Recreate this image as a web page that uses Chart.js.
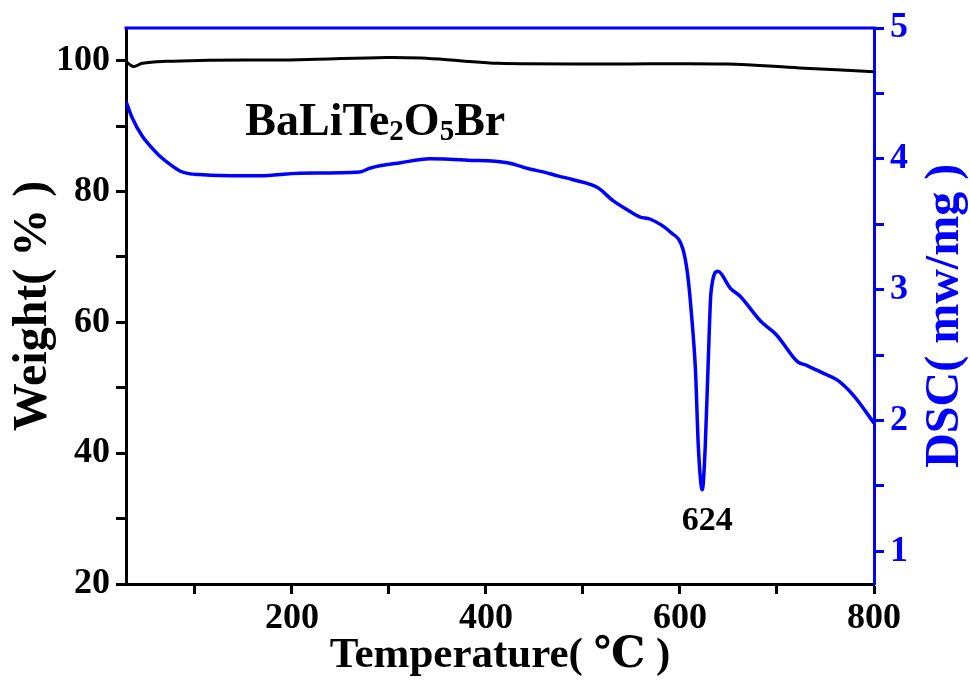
<!DOCTYPE html>
<html>
<head>
<meta charset="utf-8">
<title>BaLiTe2O5Br TGA / DSC</title>
<script src="https://cdn.jsdelivr.net/npm/chart.js@4/dist/chart.umd.min.js"></script>
<style>
  html, body { margin: 0; padding: 0; background: #ffffff; }
  #wrap { width: 970px; height: 693px; }
</style>
</head>
<body>
<div id="wrap"><canvas id="tgaChart" width="970" height="693"></canvas></div>
<script>
/* ===============================
   DATA
================================ */
const tgaTemp   = [29, 33, 37, 46, 70, 105, 207, 298, 333, 373, 412, 523, 648, 723, 800];
const tgaWeight = [99.9, 99.4, 99.1, 99.6, 99.9, 100.05, 100.15, 100.5, 100.4, 100.0, 99.6, 99.5, 99.5, 98.9, 98.3];

const dscTemp  = [29, 35, 46, 55, 64, 74, 85, 95, 105, 116, 167, 208, 270, 281, 312, 342, 381, 422, 446, 459, 474, 490, 515, 531, 548, 559, 569, 590, 603, 608, 612, 616, 619, 623, 626, 629, 632, 639, 652, 662, 683, 700, 721, 731, 748, 762, 779, 800];
const dscValue = [4.44, 4.32, 4.17, 4.09, 4.02, 3.96, 3.905, 3.885, 3.88, 3.875, 3.87, 3.89, 3.90, 3.93, 3.97, 4.0, 3.99, 3.97, 3.92, 3.90, 3.87, 3.84, 3.78, 3.68, 3.60, 3.555, 3.54, 3.44, 3.31, 3.11, 2.80, 2.38, 1.79, 1.47, 1.79, 2.42, 2.98, 3.14, 3.01, 2.95, 2.76, 2.65, 2.45, 2.42, 2.36, 2.31, 2.19, 1.98];

const xTicks       = [100, 200, 300, 400, 500, 600, 700, 800];
const xLabels      = [200, 400, 600, 800];
const weightTicks  = [20, 30, 40, 50, 60, 70, 80, 90, 100];
const weightLabels = [20, 40, 60, 80, 100];
const dscTicks     = [1, 1.5, 2, 2.5, 3, 3.5, 4, 4.5, 5];
const dscLabels    = [1, 2, 3, 4, 5];

const peakTemp = 624;
const sampleName = [["BaLiTe", false], ["2", true], ["O", false], ["5", true], ["Br", false]];
const dscTitle = "DSC( mw/mg )";

const BLUE = "#0000ff";
const FONT = "'Liberation Serif', 'DejaVu Serif', serif";

/* ===============================
   HELPERS
================================ */
const toPoints = (xs, ys) => xs.map((x, i) => ({ x: x, y: ys[i] }));
const fixedTicks = values => scale => { scale.ticks = values.map(v => ({ value: v })); };

/* top frame line, right axis title (reads upward), text annotations */
const annotations = {
  id: "annotations",
  afterDraw(chart) {
    const { ctx, chartArea, scales } = chart;
    ctx.save();

    // top border (blue)
    ctx.strokeStyle = BLUE;
    ctx.lineWidth = 3;
    ctx.beginPath();
    ctx.moveTo(chartArea.left - 1.5, chartArea.top);
    ctx.lineTo(chartArea.right + 1.5, chartArea.top);
    ctx.stroke();

    // right axis title, bottom-to-top like the left one
    ctx.save();
    ctx.translate(958, scales.y1.getPixelForValue(2.8));
    ctx.rotate(-Math.PI / 2);
    ctx.fillStyle = BLUE;
    ctx.font = `bold 48px ${FONT}`;
    ctx.textAlign = "center";
    ctx.textBaseline = "alphabetic";
    ctx.fillText(dscTitle, 0, 0);
    ctx.restore();

    // sample name with subscripts
    ctx.fillStyle = "#000000";
    ctx.textBaseline = "alphabetic";
    ctx.textAlign = "left";
    let x = scales.x.getPixelForValue(152);
    const base = scales.y.getPixelForValue(88.7);
    sampleName.forEach(([txt, sub]) => {
      ctx.font = sub ? `bold 29px ${FONT}` : `bold 46px ${FONT}`;
      ctx.fillText(txt, x, sub ? base + 5 : base);
      x += ctx.measureText(txt).width;
    });

    // peak label
    ctx.font = `bold 34px ${FONT}`;
    ctx.textAlign = "center";
    ctx.fillText(String(peakTemp), scales.x.getPixelForValue(peakTemp + 4), scales.y1.getPixelForValue(1.16));

    ctx.restore();
  }
};

/* ===============================
   CHART
================================ */
new Chart(document.getElementById("tgaChart"), {
  type: "line",
  data: {
    datasets: [
      {
        label: "Weight",
        data: toPoints(tgaTemp, tgaWeight),
        yAxisID: "y",
        borderColor: "#000000",
        borderWidth: 3,
        pointRadius: 0,
        tension: 0.35,
        fill: false
      },
      {
        label: "DSC",
        data: toPoints(dscTemp, dscValue),
        yAxisID: "y1",
        borderColor: BLUE,
        borderWidth: 3.5,
        pointRadius: 0,
        cubicInterpolationMode: "monotone",
        fill: false
      }
    ]
  },
  options: {
    responsive: false,
    animation: false,
    layout: { padding: { top: 28, left: 0, right: 0, bottom: 0 } },
    plugins: {
      legend: { display: false },
      tooltip: { enabled: false }
    },
    scales: {
      x: {
        type: "linear",
        min: 29,
        max: 800,
        afterBuildTicks: fixedTicks(xTicks),
        afterFit: s => { s.height = 109; },
        border: { color: "#000000", width: 3 },
        grid: { drawOnChartArea: false, tickLength: 10, tickWidth: 3, tickColor: "#000000" },
        ticks: {
          autoSkip: false,
          maxRotation: 0,
          padding: 3,
          color: "#000000",
          font: { family: FONT, size: 36, weight: "bold" },
          callback: v => xLabels.includes(v) ? String(v) : ""
        },
        title: {
          display: true,
          text: "Temperature( ℃ )",
          color: "#000000",
          padding: { top: 0, bottom: 11 },
          font: { family: FONT, size: 43, weight: "bold" }
        }
      },
      y: {
        type: "linear",
        position: "left",
        min: 20,
        max: 105,
        afterBuildTicks: fixedTicks(weightTicks),
        afterFit: s => { s.width = 126; },
        border: { color: "#000000", width: 3 },
        grid: { drawOnChartArea: false, tickLength: 10, tickWidth: 3, tickColor: "#000000" },
        ticks: {
          autoSkip: false,
          padding: 6,
          color: "#000000",
          font: { family: FONT, size: 36, weight: "bold" },
          callback: v => weightLabels.includes(v) ? String(v) : ""
        },
        title: {
          display: true,
          text: "Weight( % )",
          color: "#000000",
          padding: { top: 5, bottom: 0 },
          font: { family: FONT, size: 48, weight: "bold" }
        }
      },
      y1: {
        type: "linear",
        position: "right",
        min: 0.75,
        max: 5,
        afterBuildTicks: fixedTicks(dscTicks),
        afterFit: s => { s.width = 96; },
        border: { color: BLUE, width: 3 },
        grid: { drawOnChartArea: false, tickLength: 10, tickWidth: 3, tickColor: BLUE },
        ticks: {
          autoSkip: false,
          padding: 6,
          color: BLUE,
          font: { family: FONT, size: 36, weight: "bold" },
          callback: v => dscLabels.includes(v) ? String(v) : ""
        },
        title: { display: false }
      }
    }
  },
  plugins: [annotations]
});
</script>
</body>
</html>
